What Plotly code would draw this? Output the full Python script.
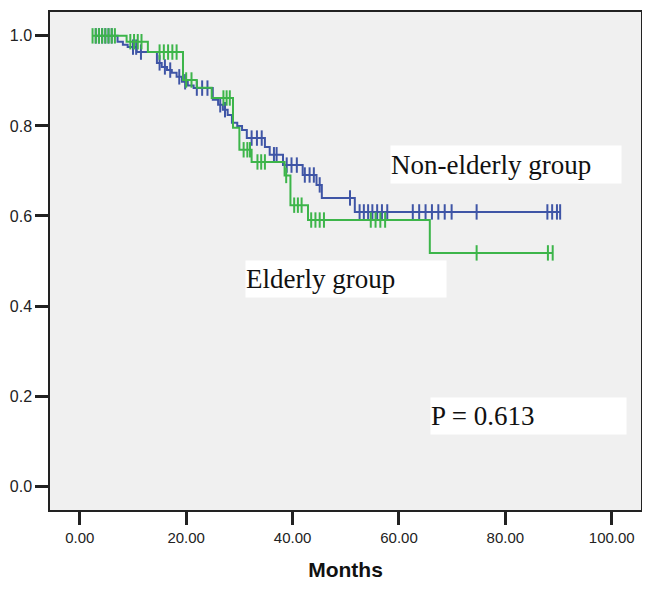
import numpy as np
import plotly.graph_objects as go

# Non-elderly group (blue): event times (months) and survival after each event
blue_times = [0, 7.1, 8.1, 9.0, 10.7, 14.5, 15.4, 16.4, 17.3, 18.2, 19.2, 20.3, 21.4,
              25.0, 26.0, 26.9, 27.8, 28.6, 29.6, 30.5, 31.4, 34.8, 35.7, 38.2, 41.9,
              44.5, 45.5, 51.7]
blue_surv = [1.0, 0.987, 0.980, 0.975, 0.964, 0.940, 0.931, 0.924, 0.918, 0.909, 0.898,
             0.890, 0.884, 0.858, 0.847, 0.836, 0.824, 0.807, 0.800, 0.791, 0.773, 0.753,
             0.736, 0.713, 0.691, 0.669, 0.640, 0.609]
blue_censored = [3.0, 3.6, 4.2, 4.8, 5.4, 6.0, 10.0, 10.6, 11.5, 15.0, 16.0, 17.0, 18.7,
                 19.8, 22.0, 23.0, 24.0, 26.4, 27.3, 32.3, 33.3, 34.2, 36.5, 37.0, 38.9,
                 39.8, 40.8, 42.3, 43.2, 44.0, 45.1, 50.8, 52.6, 53.4, 54.2, 55.0, 55.9,
                 56.8, 57.8, 62.6, 63.8, 65.0, 66.2, 67.4, 68.6, 69.9, 74.6, 87.9, 88.8,
                 89.7, 90.3]

# Elderly group (green)
green_times = [0, 8.8, 12.8, 19.4, 22.0, 24.8, 28.8, 30.0, 32.3, 38.5, 39.6, 42.9, 65.8]
green_surv = [1.0, 0.987, 0.964, 0.902, 0.885, 0.862, 0.796, 0.747, 0.720, 0.690, 0.624,
              0.591, 0.518]
green_censored = [2.4, 3.0, 3.6, 4.2, 4.8, 5.4, 6.0, 6.6, 9.5, 10.2, 10.9, 11.6, 15.0,
                  15.8, 16.6, 17.4, 18.2, 20.0, 21.0, 27.0, 27.6, 28.2, 30.8, 31.5, 32.0,
                  33.4, 34.1, 34.8, 38.8, 40.3, 41.0, 41.7, 43.5, 44.3, 45.1, 45.9, 54.7,
                  55.6, 56.5, 57.4, 74.6, 88.0, 88.9]

x_ticks = [0, 20, 40, 60, 80, 100]
y_ticks = [0.0, 0.2, 0.4, 0.6, 0.8, 1.0]

BLUE = "#3F55A6"
GREEN = "#3DB54A"


def step_at(times, surv, t):
    idx = np.searchsorted(np.array(times), np.array(t), side="right") - 1
    return np.array(surv)[idx]


fig = go.Figure()
for times, surv, cens, color, name in [
    (blue_times, blue_surv, blue_censored, BLUE, "Non-elderly group"),
    (green_times, green_surv, green_censored, GREEN, "Elderly group"),
]:
    start = cens[0] if cens[0] < times[1] else times[1]
    end = max(cens[-1], times[-1])
    xs = [start] + list(times[1:]) + [end]
    ys = [surv[0]] + list(surv[1:]) + [step_at(times, surv, end)]
    fig.add_trace(go.Scatter(x=xs, y=ys, mode="lines", line=dict(color=color, width=2, shape="hv"),
                             name=name, showlegend=False, hoverinfo="skip"))
    fig.add_trace(go.Scatter(x=cens, y=step_at(times, surv, cens), mode="markers",
                             marker=dict(symbol="line-ns", size=11, line=dict(color=color, width=2)),
                             showlegend=False, hoverinfo="skip"))

ann_font = dict(family="Liberation Serif, Times New Roman, serif", size=27, color="#111111")
for text, x0, y0, w, h in [
    ("Non-elderly group", 58.3, 0.758, 230, 37),
    ("Elderly group", 31.0, 0.502, 200, 36),
    ("P = 0.613", 65.8, 0.198, 195, 36),
]:
    fig.add_annotation(x=x0, y=y0, xref="x", yref="y", xanchor="left", yanchor="top",
                       text=text, showarrow=False, font=ann_font, bgcolor="white",
                       width=w, height=h, align="left", valign="middle", borderpad=0)

# page body has an 8px default margin, so the plot area is offset by that amount
fig.update_layout(
    width=650, height=593,
    margin=dict(l=42, r=17, t=4, b=91),
    paper_bgcolor="white", plot_bgcolor="#F0F0F0",
    showlegend=False,
    font=dict(family="Liberation Sans, Arial, sans-serif", size=16, color="#222222"),
)
fig.update_xaxes(range=[-5.6, 105.5], tickvals=x_ticks, tickformat=".2f", automargin=False,
                 tickfont=dict(size=15),
                 ticks="outside", ticklen=13, tickwidth=2.5, tickcolor="#222",
                 showgrid=False, zeroline=False, showline=True, mirror=True,
                 linecolor="#222", linewidth=1.5,
                 title=dict(text="<b>Months</b>", font=dict(size=21, color="#111"), standoff=18))
fig.update_yaxes(range=[-0.053, 1.053], tickvals=y_ticks, tickformat=".1f", automargin=False,
                 ticks="outside", ticklen=13, tickwidth=2.5, tickcolor="#222",
                 showgrid=False, zeroline=False, showline=True, mirror=True,
                 linecolor="#222", linewidth=1.5)

fig.write_html("out.html")
